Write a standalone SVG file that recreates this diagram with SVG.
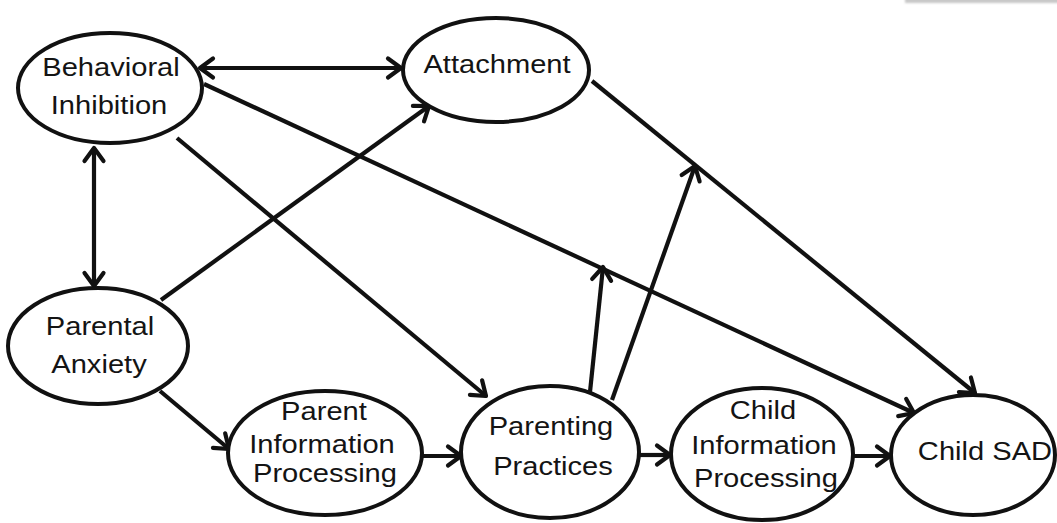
<svg xmlns="http://www.w3.org/2000/svg" width="1057" height="523" viewBox="0 0 1057 523">
  <style>
    .node ellipse { fill: #ffffff; stroke: #111111; stroke-width: 4; }
    .node text { font-family: "Liberation Sans", Arial, sans-serif; font-size: 26px; fill: #141414; text-anchor: middle; }
    #connectors path { fill: none; stroke: #111111; stroke-width: 4.2; }
  </style>
  <defs>
    <marker id="head" markerUnits="userSpaceOnUse" markerWidth="26" markerHeight="26" refX="16" refY="13" orient="auto-start-reverse" viewBox="0 0 26 26">
      <path d="M3,3.5 L16,13 L3,22.5" fill="none" stroke="#111111" stroke-width="4.2" stroke-linecap="round" stroke-linejoin="round"/>
    </marker>
    <filter id="soft" x="-10%" y="-200%" width="120%" height="500%">
      <feGaussianBlur stdDeviation="1.2"/>
    </filter>
  </defs>

  <rect width="1057" height="523" fill="#ffffff"/>
  <!-- thin grey shadow strip along the top right edge -->
  <rect x="905" y="-4" width="160" height="7" fill="#c8c8c8" filter="url(#soft)"/>

  <g id="connectors">
    <path d="M200,68 L401,68" marker-start="url(#head)" marker-end="url(#head)"/>
    <path d="M94,148 L94,286" marker-start="url(#head)" marker-end="url(#head)"/>
    <path d="M161,300 L429,106" marker-end="url(#head)"/>
    <path d="M177,138 L486,396" marker-end="url(#head)"/>
    <path d="M204,84 L914,413" marker-end="url(#head)"/>
    <path d="M592,81 L975,393" marker-end="url(#head)"/>
    <path d="M590,392 L603,267" marker-end="url(#head)"/>
    <path d="M612,400 L695,166" marker-end="url(#head)"/>
    <path d="M160,391 L229,449" marker-end="url(#head)"/>
    <path d="M422,456 L461,456" marker-end="url(#head)"/>
    <path d="M639,455 L670,455" marker-end="url(#head)"/>
    <path d="M853,456 L890,456" marker-end="url(#head)"/>
  </g>

  <g id="behavioral-inhibition" class="node">
    <ellipse cx="110" cy="88" rx="92" ry="55"/>
    <text transform="translate(111 76) scale(1.12 1)">Behavioral</text>
    <text transform="translate(109 114) scale(1.12 1)">Inhibition</text>
  </g>

  <g id="attachment" class="node">
    <ellipse cx="496" cy="70" rx="93" ry="52"/>
    <text transform="translate(497 73) scale(1.12 1)">Attachment</text>
  </g>

  <g id="parental-anxiety" class="node">
    <ellipse cx="98" cy="346" rx="90" ry="58"/>
    <text transform="translate(100 335) scale(1.12 1)">Parental</text>
    <text transform="translate(99 373) scale(1.12 1)">Anxiety</text>
  </g>

  <g id="parent-information-processing" class="node">
    <ellipse cx="325" cy="453" rx="97" ry="62"/>
    <text transform="translate(324 420) scale(1.12 1)">Parent</text>
    <text transform="translate(322 453) scale(1.12 1)">Information</text>
    <text transform="translate(325 482) scale(1.12 1)">Processing</text>
  </g>

  <g id="parenting-practices" class="node">
    <ellipse cx="550" cy="452" rx="89" ry="66"/>
    <text transform="translate(551 435) scale(1.12 1)">Parenting</text>
    <text transform="translate(553 475) scale(1.12 1)">Practices</text>
  </g>

  <g id="child-information-processing" class="node">
    <ellipse cx="762" cy="454" rx="91" ry="66"/>
    <text transform="translate(763 419) scale(1.12 1)">Child</text>
    <text transform="translate(764 454) scale(1.12 1)">Information</text>
    <text transform="translate(766 487) scale(1.12 1)">Processing</text>
  </g>

  <g id="child-sad" class="node">
    <ellipse cx="973" cy="455" rx="82" ry="60"/>
    <text transform="translate(985 460) scale(1.12 1)">Child SAD</text>
  </g>
</svg>
